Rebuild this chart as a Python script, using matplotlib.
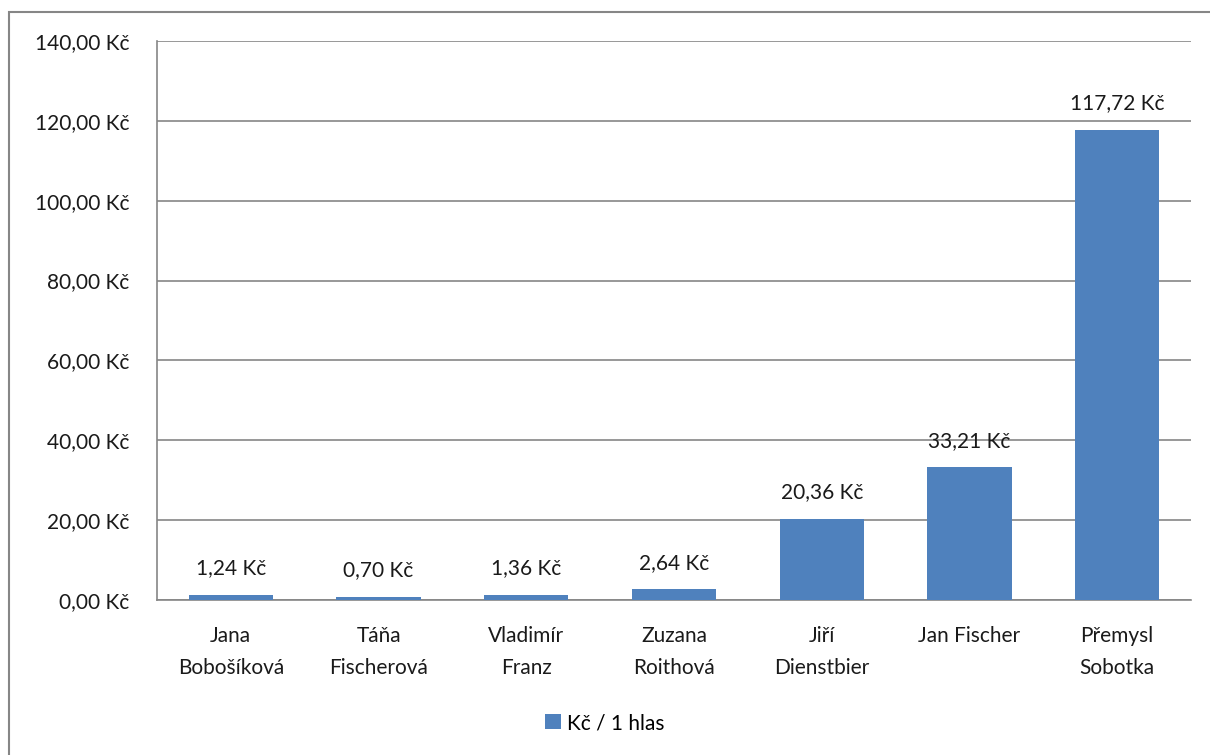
import matplotlib
matplotlib.use('Agg')
import matplotlib.pyplot as plt
from matplotlib.patches import Rectangle

plt.rcParams['font.family'] = ['Lato', 'DejaVu Sans']

candidates = ['Jana\nBobošíková', 'Táňa\nFischerová', 'Vladimír\nFranz', 'Zuzana\nRoithová',
              'Jiří\nDienstbier', 'Jan Fischer', 'Přemysl\nSobotka']
kc_per_vote = [1.24, 0.70, 1.36, 2.64, 20.36, 33.21, 117.72]
y_ticks = [0, 20, 40, 60, 80, 100, 120, 140]
FS = 15


def kc(v):
    return f'{v:.2f}'.replace('.', ',') + ' Kč'


fig = plt.figure(figsize=(12.1, 7.55), dpi=100)
ax = fig.add_axes([157 / 1210, 1 - 600 / 755, (1191 - 157) / 1210, (600 - 41) / 755])

# outer chart frame
fig.patches.append(Rectangle((9 / 1210, -0.1), 1.2, 1 - 12 / 755 + 0.1, transform=fig.transFigure,
                             fill=False, edgecolor='#868686', linewidth=1.5))

x = range(len(candidates))
bars = ax.bar(x, kc_per_vote, width=0.57, color='#4F81BD', label='Kč / 1 hlas', zorder=3)
for b, v in zip(bars, kc_per_vote):
    ax.text(b.get_x() + b.get_width() / 2, v + 4.2, kc(v), ha='center', va='bottom',
            fontsize=FS, color='#1a1a1a')

ax.set_xlim(-0.5, len(candidates) - 0.5)
ax.set_ylim(0, 140)
ax.set_yticks(y_ticks)
ax.set_yticklabels([kc(t) for t in y_ticks])
ax.set_xticks(list(x))
ax.set_xticklabels(candidates, linespacing=1.7)
ax.tick_params(axis='both', length=0, labelsize=FS, colors='#1a1a1a')
ax.tick_params(axis='y', pad=20)
ax.tick_params(axis='x', pad=19)
ax.grid(axis='y', color='#868686', linewidth=1.2, zorder=0)
for side in ['top', 'right']:
    ax.spines[side].set_visible(False)
for side in ['left', 'bottom']:
    ax.spines[side].set_color('#868686')
    ax.spines[side].set_linewidth(1.2)

fig.legend(handles=[bars], labels=['Kč / 1 hlas'], loc='center', bbox_to_anchor=(0.5, 1 - 723 / 755),
           frameon=False, fontsize=FS, handlelength=0.75, handleheight=0.75, handletextpad=0.3)

fig.savefig('out.png', dpi=100)
